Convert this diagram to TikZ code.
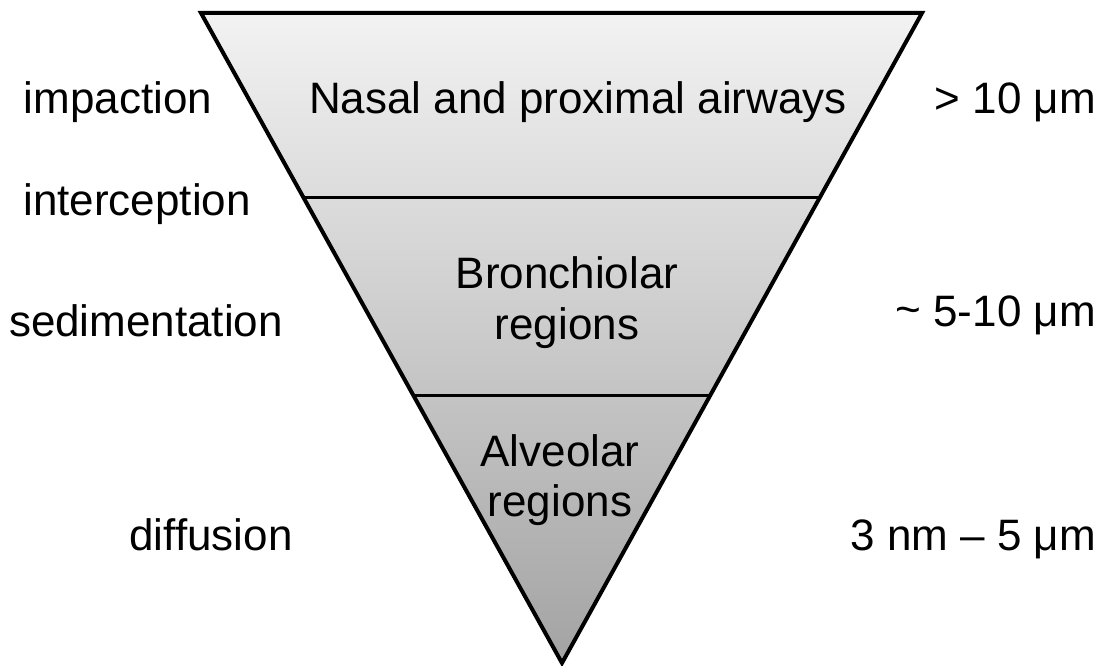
\documentclass[tikz,border=0pt]{standalone}
\usepackage{fontspec}
\setmainfont{Liberation Sans}
\usetikzlibrary{calc}
\begin{document}
\begin{tikzpicture}[x=1pt,y=-1pt,
  lbl/.style={inner sep=0pt,anchor=base,font=\fontsize{44}{52}\selectfont},
  edge/.style={line width=4pt,line join=miter}]
\useasboundingbox (0,0) rectangle (1103,666);
\coordinate (TL) at (201,13);
\coordinate (TR) at (922,13);
\coordinate (AP) at (562,663);
\coordinate (L1) at ($(TL)!0.2846!(AP)$);
\coordinate (R1) at ($(TR)!0.2846!(AP)$);
\coordinate (L2) at ($(TL)!0.5877!(AP)$);
\coordinate (R2) at ($(TR)!0.5877!(AP)$);
\shade[top color=black!5, bottom color=black!36] (TL) -- (TR) -- (AP) -- cycle;
\draw[edge] (TL) -- (TR) -- (AP) -- cycle;
\draw[line width=3pt] (L1) -- (R1);
\draw[line width=3pt] (L2) -- (R2);
% inner labels
\node[lbl] (nasal) at (578,114) {Nasal and proximal airways};
\node[lbl] (bron1) at (567,288) {Bronchiolar};
\node[lbl] (bron2) at (567,339) {regions};
\node[lbl] (alv1) at (560,466) {Alveolar};
\node[lbl] (alv2) at (560,516) {regions};
% left labels
\node[lbl] (imp) at (118,114) {impaction};
\node[lbl] (int) at (137,215) {interception};
\node[lbl] (sed) at (146,336) {sedimentation};
\node[lbl] (dif) at (211,550) {diffusion};
% right labels
\node[lbl,anchor=base east] (r1) at (1096,114) {> 10 μm};
\node[lbl,anchor=base east] (r2) at (1096,326) {\raisebox{2pt}{\char"007E} 5-10 μm};
\node[lbl,anchor=base east] (r3) at (1096,550) {3 nm – 5 μm};
\end{tikzpicture}
\end{document}
